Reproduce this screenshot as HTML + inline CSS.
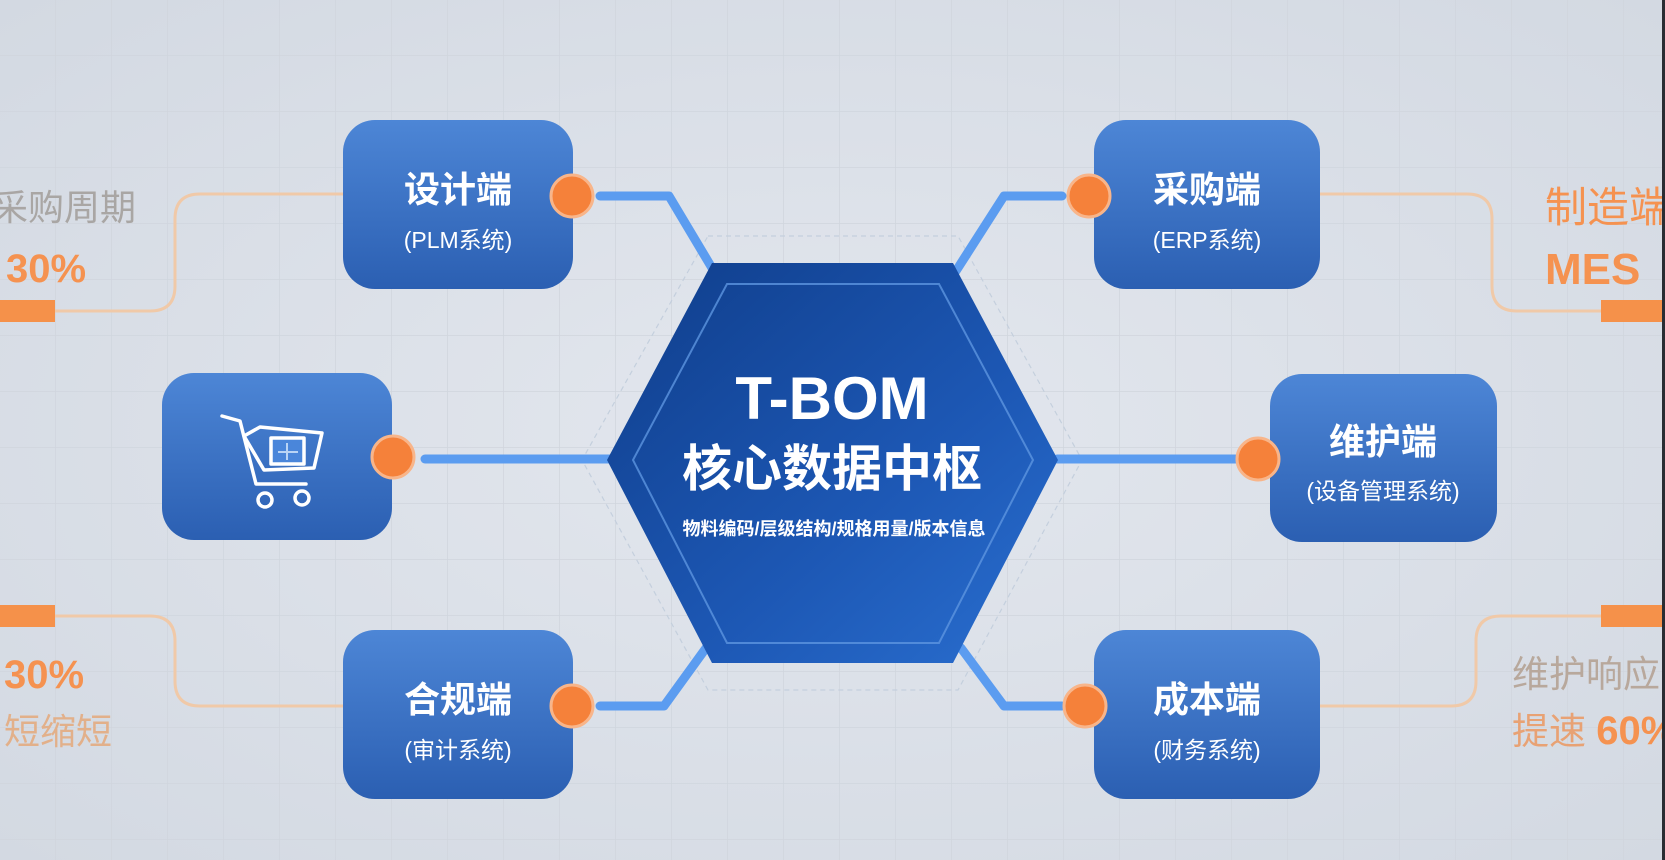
<!DOCTYPE html>
<html><head><meta charset="utf-8"><style>
html,body{margin:0;padding:0;width:1665px;height:860px;overflow:hidden;background:#d8dde5}
svg{display:block}
text{font-family:"Liberation Sans","Noto Sans CJK SC",sans-serif}
</style></head><body>
<svg width="1665" height="860" viewBox="0 0 1665 860" xmlns="http://www.w3.org/2000/svg">
<defs>
<pattern id="grid" width="56" height="56" patternUnits="userSpaceOnUse">
<path d="M56 0V56M0 56H56" stroke="#d0d5dd" stroke-width="1.5" fill="none"/>
</pattern>
<linearGradient id="bx" x1="0" y1="0" x2="0" y2="1"><stop offset="0" stop-color="#4d86d6"/><stop offset="1" stop-color="#2b5fb2"/></linearGradient>
<linearGradient id="hx" x1="0" y1="0" x2="1" y2="1"><stop offset="0" stop-color="#0f3d8a"/><stop offset="0.6" stop-color="#1d58b5"/><stop offset="1" stop-color="#2a6fd0"/></linearGradient>
<radialGradient id="bg" cx="0.5" cy="0.5" r="0.7"><stop offset="0" stop-color="#e3e7ee"/><stop offset="1" stop-color="#d3d9e2"/></radialGradient>
</defs>
<rect width="1665" height="860" fill="url(#bg)"/>
<rect width="1665" height="860" fill="url(#grid)"/>
<rect x="1662" y="0" width="3" height="860" fill="#2a2d33"/>

<g fill="none" stroke="#f0c9a8" stroke-width="3">
<path d="M55 311H150Q175 311 175 286V219Q175 194 200 194H343"/>
<path d="M55 616H150Q175 616 175 641V681Q175 706 200 706H343"/>
<path d="M1320 194H1467Q1492 194 1492 219V286Q1492 311 1517 311H1601"/>
<path d="M1601 616H1501Q1476 616 1476 641V681Q1476 706 1451 706H1320"/>
</g>
<polygon points="708,236 958,236 1082,460 958,690 708,690 582,460" fill="none" stroke="#c4cfdd" stroke-width="1.2" stroke-dasharray="5 4"/>

<g fill="none" stroke="#5b9cf0" stroke-width="9" stroke-linecap="round" stroke-linejoin="round">
<path d="M600 196H669L712 268"/>
<path d="M1062 196H1004L956 271"/>
<path d="M425 459H611"/>
<path d="M1057 459H1237"/>
<path d="M600 706H664L706 648"/>
<path d="M1062 706H1004L961 648"/>
</g>

<polygon points="712,263 953,263 1058,460 953,663 712,663 607,460" fill="url(#hx)"/>
<polygon points="727,284 939,284 1033,460 939,643 727,643 633,460" fill="none" stroke="#5d95e0" stroke-width="2" opacity="0.8"/>
<text x="832" y="419" text-anchor="middle" font-size="60" font-weight="bold" fill="#fff">T-BOM</text>
<text x="832" y="486" text-anchor="middle" font-size="50" font-weight="bold" fill="#fff">核心数据中枢</text>
<text x="834" y="535" text-anchor="middle" font-size="18" font-weight="bold" fill="#fff">物料编码/层级结构/规格用量/版本信息</text>

<g fill="url(#bx)">
<rect x="343" y="120" width="230" height="169" rx="32"/>
<rect x="1094" y="120" width="226" height="169" rx="32"/>
<rect x="162" y="373" width="230" height="167" rx="32"/>
<rect x="1270" y="374" width="227" height="168" rx="32"/>
<rect x="343" y="630" width="230" height="169" rx="32"/>
<rect x="1094" y="630" width="226" height="169" rx="32"/>
</g>
<g fill="#fff" text-anchor="middle">
<text x="458" y="202" font-size="36" font-weight="bold">设计端</text>
<text x="458" y="248" font-size="23">(PLM系统)</text>
<text x="1207" y="202" font-size="36" font-weight="bold">采购端</text>
<text x="1207" y="248" font-size="23">(ERP系统)</text>
<text x="1383" y="454" font-size="36" font-weight="bold">维护端</text>
<text x="1383" y="499" font-size="23">(设备管理系统)</text>
<text x="458" y="712" font-size="36" font-weight="bold">合规端</text>
<text x="458" y="758" font-size="23">(审计系统)</text>
<text x="1207" y="712" font-size="36" font-weight="bold">成本端</text>
<text x="1207" y="758" font-size="23">(财务系统)</text>
</g>
<g fill="none" stroke="#fff" stroke-width="3.5" stroke-linecap="round" stroke-linejoin="round">
<path d="M222 416L240 421L256 484H306"/>
<path d="M244 436L260 427L322 433L314 468L264 470Z"/>
<rect x="271" y="438" width="33" height="26" fill="#4a86da"/>
<circle cx="265" cy="500" r="7"/><circle cx="302" cy="498" r="7"/>
</g>
<path d="M287 443V460M278 452H298" stroke="#b9d4f5" stroke-width="2"/>

<g fill="#f5813a" stroke="#f8b58a" stroke-width="3">
<circle cx="572" cy="196" r="21"/>
<circle cx="1089" cy="196" r="21"/>
<circle cx="393" cy="457" r="21"/>
<circle cx="1258" cy="459" r="21"/>
<circle cx="572" cy="706" r="21"/>
<circle cx="1085" cy="706" r="21"/>
</g>

<g fill="#f5914a">
<rect x="0" y="300" width="55" height="22"/>
<rect x="0" y="605" width="55" height="22"/>
<rect x="1601" y="300" width="61" height="22"/>
<rect x="1601" y="605" width="61" height="22"/>
</g>
<text x="-8" y="220" font-size="36" fill="#a9a6a4">采购周期</text>
<text x="6" y="282" font-size="40" font-weight="bold" fill="#f59250">30%</text>
<text x="4" y="688" font-size="40" font-weight="bold" fill="#f59250">30%</text>
<text x="4" y="744" font-size="36" fill="#e2b08a">短缩短</text>
<text x="1545" y="222" font-size="42" fill="#f59250">制造端</text>
<text x="1545" y="284" font-size="44" font-weight="bold" fill="#f59250">MES</text>
<text x="1512" y="687" font-size="37" fill="#b8a89c">维护响应</text>
<text x="1512" y="744" font-size="37" fill="#e8a274">提速 <tspan font-weight="bold" font-size="40" fill="#f59250">60%</tspan></text>
<rect x="1662" y="0" width="3" height="860" fill="#2a2d33"/>
</svg>
</body></html>
